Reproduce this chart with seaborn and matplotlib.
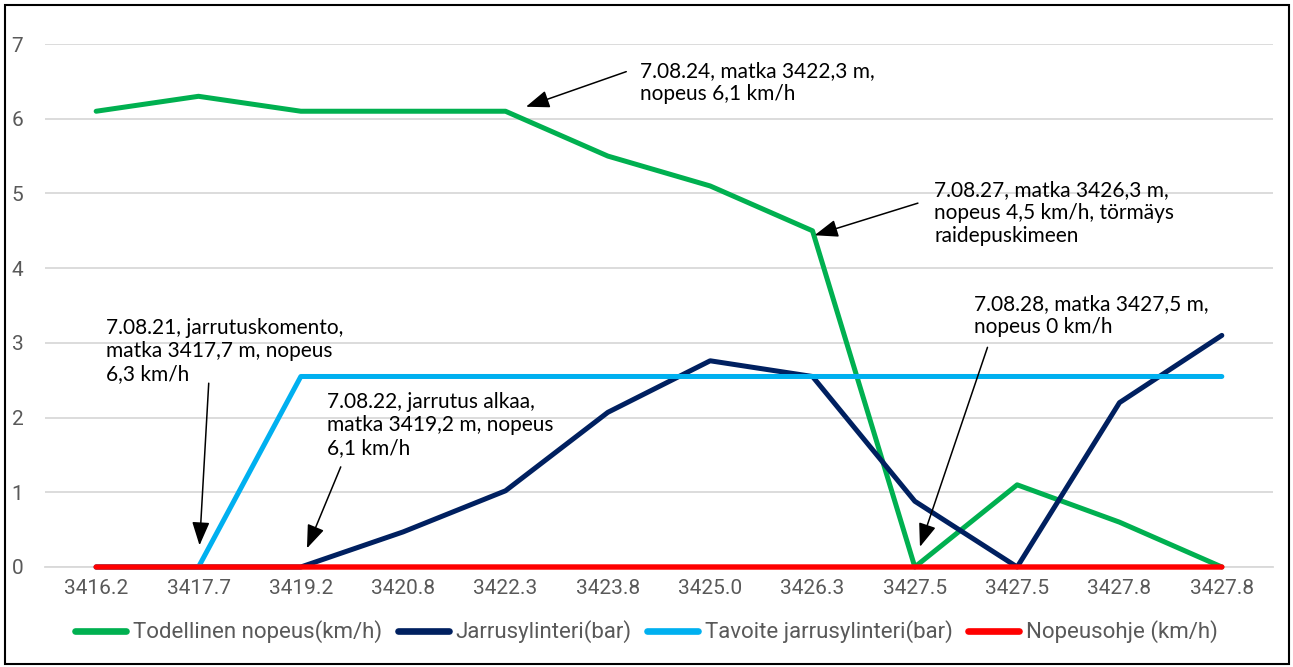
import matplotlib
matplotlib.use("Agg")
import matplotlib.pyplot as plt
import seaborn as sns
import pandas as pd
import numpy as np
from matplotlib.lines import Line2D
from matplotlib.patches import Rectangle

categories = ["3416.2", "3417.7", "3419.2", "3420.8", "3422.3", "3423.8",
              "3425.0", "3426.3", "3427.5", "3427.5", "3427.8", "3427.8"]
todellinen_nopeus = [6.1, 6.3, 6.1, 6.1, 6.1, 5.5, 5.1, 4.5, 0.0, 1.1, 0.6, 0.0]
jarrusylinteri = [0.0, 0.0, 0.0, 0.47, 1.02, 2.07, 2.76, 2.55, 0.88, 0.0, 2.2, 3.1]
tavoite_jarrusylinteri = [0.0, 0.0, 2.55, 2.55, 2.55, 2.55, 2.55, 2.55, 2.55, 2.55, 2.55, 2.55]
nopeusohje = [0.0, 0.0, 0.0, 0.0, 0.0, 0.0, 0.0, 0.0, 0.0, 0.0, 0.0, 0.0]

series_names = ["Todellinen nopeus(km/h)", "Jarrusylinteri(bar)",
                "Tavoite jarrusylinteri(bar)", "Nopeusohje (km/h)"]
series_values = [todellinen_nopeus, jarrusylinteri, tavoite_jarrusylinteri, nopeusohje]
colors = ["#00B050", "#002060", "#00B0F0", "#FF0000"]

annotations = [
    ("7.08.24, matka 3422,3 m,\nnopeus 6,1 km/h"),
    ("7.08.27, matka 3426,3 m,\nnopeus 4,5 km/h, törmäys\nraidepuskimeen"),
    ("7.08.28, matka 3427,5 m,\nnopeus 0 km/h"),
    ("7.08.21, jarrutuskomento,\nmatka 3417,7 m, nopeus\n6,3 km/h"),
    ("7.08.22, jarrutus alkaa,\nmatka 3419,2 m, nopeus\n6,1 km/h"),
]
# text anchor (x, y), arrow start, arrow end in data coords
ann_text_pos = [(5.31, 6.49), (8.19, 4.74), (8.58, 3.36), (0.10, 2.89), (2.26, 1.90)]
ann_arrow_from = [(5.18, 6.63), (8.03, 4.87), (8.71, 2.94), (1.10, 2.46), (2.39, 1.34)]
ann_arrow_to = [(4.20, 6.16), (7.02, 4.44), (8.05, 0.27), (1.01, 0.29), (2.06, 0.25)]

rows = []
for name, vals in zip(series_names, series_values):
    for i, v in enumerate(vals):
        rows.append({"pos": i, "value": v, "series": name})
df = pd.DataFrame(rows)

sns.set_theme(style="white")
plt.rcParams["font.family"] = ["Roboto", "DejaVu Sans"]

fig = plt.figure(figsize=(12.93, 6.67), dpi=100)
ax = fig.add_axes([45 / 1293, 1 - 567 / 667, (1273 - 45) / 1293, (567 - 44) / 667])

widths = [3.6, 3.6, 3.6, 3.9]
for k, (name, c) in enumerate(zip(series_names, colors)):
    sub = df[df["series"] == name]
    sns.lineplot(data=sub, x="pos", y="value", color=c, sort=False,
                 linewidth=widths[k], ax=ax, zorder=3 + k, estimator=None)
for ln in ax.get_lines():
    ln.set_clip_on(False)
    ln.set_snap(False)
    ln.set_solid_capstyle("round")
    ln.set_solid_joinstyle("round")

n = len(categories)
ax.set_xlim(-0.5, n - 0.5)
ax.set_ylim(0, 7)
ax.set_xticks(range(n))
ax.set_xticklabels(categories)
ax.set_xticks(np.arange(-0.5, n, 1.0), minor=True)
ax.tick_params(axis="x", which="major", length=0, pad=9, labelsize=15, labelcolor="#595959")
ax.tick_params(axis="x", which="minor", length=5, width=1.2, color="#d9d9d9", direction="out")
ax.set_yticks(range(0, 8))
ax.tick_params(axis="y", length=0, pad=24, labelsize=15, labelcolor="#595959")
for lab in ax.get_yticklabels():
    lab.set_horizontalalignment("left")
ax.grid(axis="y", color="#d9d9d9", linewidth=1.3)
ax.set_axisbelow(True)
for s in ["top", "right", "left"]:
    ax.spines[s].set_visible(False)
ax.spines["bottom"].set_color("#d9d9d9")
ax.spines["bottom"].set_linewidth(1.3)
ax.spines["bottom"].set_zorder(1)
ax.set_xlabel("")
ax.set_ylabel("")

for txt, tp, af, at in zip(annotations, ann_text_pos, ann_arrow_from, ann_arrow_to):
    ax.text(tp[0], tp[1], txt, ha="left", va="center", fontsize=15,
            family=["Lato", "DejaVu Sans"], color="black", linespacing=1.18, zorder=10)
    ax.annotate("", xy=at, xytext=af,
                arrowprops=dict(arrowstyle="-|>,head_length=0.8,head_width=0.3",
                                color="black", lw=1.1, mutation_scale=18,
                                shrinkA=0, shrinkB=0),
                annotation_clip=False, zorder=10)

handles = [Line2D([0], [0], color=c, lw=4.8, solid_capstyle="round") for c in colors]
fig.legend(handles, series_names, loc="center", bbox_to_anchor=(0.5, 1 - 632 / 667),
           ncol=4, frameon=False, fontsize=16, handlelength=2.3, handletextpad=0.3,
           columnspacing=0.7, labelcolor="#595959")

fig.patches.append(Rectangle((5 / 1293, 3 / 667), (1289 - 5) / 1293, (662 - 3) / 667,
                             transform=fig.transFigure, fill=False,
                             edgecolor="black", linewidth=1.5))

fig.savefig("out.png", dpi=100)
